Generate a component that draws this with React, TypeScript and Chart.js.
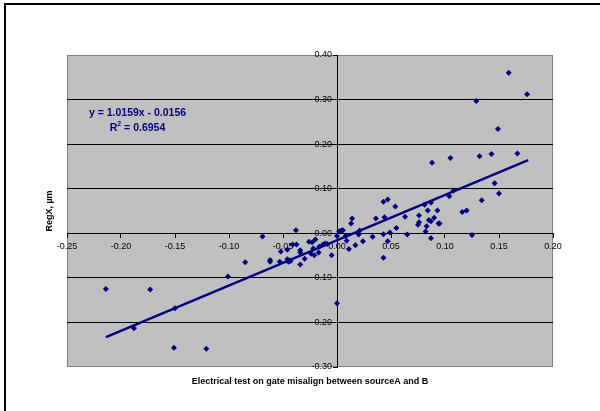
import React, { useEffect, useRef } from "react";
import { Chart, registerables } from "chart.js";

Chart.register(...registerables);

// ---- data ----
const pointX = [
  -0.214, -0.188, -0.173, -0.150, -0.151, -0.121, -0.101, -0.085, -0.069, -0.062,
  -0.062, -0.053, -0.052, -0.046, -0.046, -0.045, -0.044, -0.043, -0.038, -0.041,
  -0.0375, -0.034, -0.034, -0.034, -0.030, -0.026, -0.024, -0.023, -0.022, -0.021,
  -0.020, -0.017, -0.0165, -0.013, -0.011, -0.009, -0.005, 0.000, 0.000, 0.002,
  0.004, 0.0055, 0.008, 0.009, 0.011, 0.013, 0.014, 0.017, 0.020, 0.021,
  0.024, 0.033, 0.036, 0.043, 0.043, 0.043, 0.044, 0.047, 0.047, 0.049,
  0.054, 0.055, 0.063, 0.065, 0.075, 0.076, 0.076, 0.081, 0.082, 0.083,
  0.084, 0.085, 0.087, 0.087, 0.087, 0.088, 0.090, 0.093, 0.094, 0.095,
  0.104, 0.105, 0.108, 0.116, 0.120, 0.125, 0.129, 0.132, 0.134, 0.143,
  0.146, 0.149, 0.150, 0.159, 0.167, 0.176,
];
const pointY = [
  -0.125, -0.213, -0.126, -0.168, -0.257, -0.259, -0.097, -0.065, -0.007, -0.060,
  -0.064, -0.064, -0.041, -0.037, -0.058, -0.064, -0.061, -0.062, 0.007, -0.025,
  -0.025, -0.038, -0.043, -0.070, -0.057, -0.019, -0.046, -0.020, -0.034, -0.049,
  -0.014, -0.043, -0.030, -0.025, -0.023, -0.024, -0.049, -0.157, -0.006, 0.004,
  0.006, 0.007, -0.006, -0.017, -0.035, 0.022, 0.033, -0.027, -0.003, 0.006,
  -0.018, -0.008, 0.033, 0.071, -0.002, -0.055, 0.036, 0.076, -0.018, 0.002,
  0.060, 0.012, 0.037, -0.003, 0.019, 0.025, 0.040, 0.064, 0.004, 0.016,
  0.051, 0.030, 0.069, 0.027, -0.011, 0.158, 0.035, 0.051, 0.022, 0.022,
  0.083, 0.169, 0.096, 0.048, 0.051, -0.004, 0.297, 0.173, 0.074, 0.178,
  0.112, 0.234, 0.089, 0.360, 0.179, 0.312,
];
const trendX = [-0.214, 0.177];
const trendY = [-0.233, 0.164];
const xTickValues = [-0.25, -0.2, -0.15, -0.1, -0.05, 0, 0.05, 0.1, 0.15, 0.2];
const yTickValues = [-0.3, -0.2, -0.1, 0, 0.1, 0.2, 0.3, 0.4];
const equationText = "y = 1.0159x - 0.0156";
const rSquaredValue = "0.6954";
const xTitleText = "Electrical test on gate misalign between sourceA and B";
const yTitleText = "RegX, µm";

const NAVY = "#000080";
const FONT = '"Liberation Sans", Arial, sans-serif';

const plotBgPlugin = {
  id: "plotBg",
  beforeDraw(chart: any) {
    const { ctx, chartArea: a } = chart;
    ctx.save();
    ctx.fillStyle = "#c0c0c0";
    ctx.fillRect(a.left, a.top, a.right - a.left, a.bottom - a.top);
    ctx.strokeStyle = "#808080";
    ctx.lineWidth = 1;
    ctx.strokeRect(a.left + 0.5, a.top + 0.5, a.right - a.left - 1, a.bottom - a.top - 1);
    ctx.restore();
  },
};

const equationPlugin = {
  id: "equation",
  afterDatasetsDraw(chart: any) {
    const { ctx, chartArea: a } = chart;
    const cx = a.left + 70.5;
    const y1 = a.top + 58;
    const y2 = a.top + 73;
    ctx.save();
    ctx.fillStyle = NAVY;
    ctx.textBaseline = "middle";
    ctx.font = `bold 10.5px ${FONT}`;
    ctx.textAlign = "center";
    ctx.fillText(equationText, cx, y1);
    ctx.textAlign = "left";
    const rest = " = " + rSquaredValue;
    const wR = ctx.measureText("R").width;
    const wRest = ctx.measureText(rest).width;
    ctx.font = `bold 7px ${FONT}`;
    const w2 = ctx.measureText("2").width;
    const total = wR + w2 + wRest;
    let x = cx - total / 2;
    ctx.font = `bold 10.5px ${FONT}`;
    ctx.fillText("R", x, y2);
    x += wR;
    ctx.font = `bold 7px ${FONT}`;
    ctx.fillText("2", x, y2 - 4);
    x += w2;
    ctx.font = `bold 10.5px ${FONT}`;
    ctx.fillText(rest, x, y2);
    ctx.restore();
  },
};

export default function App() {
  const ref = useRef<HTMLCanvasElement | null>(null);

  useEffect(() => {
    if (!ref.current) return;
    const tickFont = { family: FONT, size: 9 };
    const chart = new Chart(ref.current, {
      type: "scatter",
      data: {
        datasets: [
          {
            label: "trend",
            data: trendX.map((x, i) => ({ x, y: trendY[i] })),
            showLine: true,
            borderColor: NAVY,
            borderWidth: 2.5,
            pointRadius: 0,
            fill: false,
          },
          {
            label: "points",
            data: pointX.map((x, i) => ({ x, y: pointY[i] })),
            showLine: false,
            pointStyle: "rectRot",
            pointRadius: 3,
            pointBackgroundColor: NAVY,
            pointBorderColor: NAVY,
            pointBorderWidth: 0,
          },
        ],
      },
      options: {
        responsive: false,
        animation: false,
        devicePixelRatio: 1,
        layout: { padding: { top: 55, right: 47, left: 0, bottom: 0 } },
        plugins: {
          legend: { display: false },
          tooltip: { enabled: false },
        },
        scales: {
          x: {
            type: "linear",
            min: -0.25,
            max: 0.2,
            position: { y: 0 } as any,
            afterFit: (s: any) => {
              s.height = 0;
            },
            afterBuildTicks: (s: any) => {
              s.ticks = xTickValues.map((v) => ({ value: v }));
            },
            ticks: {
              autoSkip: false,
              maxRotation: 0,
              minRotation: 0,
              padding: 4,
              font: tickFont,
              color: "#000",
              callback: (v: any) => Number(v).toFixed(2),
            },
            grid: {
              display: true,
              drawOnChartArea: false,
              drawTicks: true,
              tickLength: 4,
              color: "#000",
            },
            border: { display: true, color: "#000", width: 1 },
          },
          y: {
            type: "linear",
            min: -0.3,
            max: 0.4,
            position: { x: 0 } as any,
            afterFit: (s: any) => {
              s.width = 0;
            },
            afterBuildTicks: (s: any) => {
              s.ticks = yTickValues.map((v) => ({ value: v }));
            },
            ticks: {
              padding: 2,
              font: tickFont,
              color: "#000",
              callback: (v: any) => Number(v).toFixed(2) + "  ",
            },
            grid: {
              display: true,
              drawOnChartArea: true,
              drawTicks: true,
              tickLength: 4,
              tickColor: "#000",
              color: (c: any) => {
                const v = c.tick ? c.tick.value : 0;
                return Math.abs(v - 0.4) < 1e-6 || Math.abs(v + 0.3) < 1e-6
                  ? "rgba(0,0,0,0)"
                  : "#000";
              },
            },
            border: { display: true, color: "#000", width: 1 },
          },
          xT: {
            type: "linear",
            axis: "x",
            position: "bottom",
            min: -0.25,
            max: 0.2,
            afterFit: (s: any) => {
              s.height = 44;
            },
            ticks: { display: false },
            grid: { display: false },
            border: { display: false },
            title: {
              display: true,
              text: xTitleText,
              color: "#000",
              font: { family: FONT, size: 9, weight: "bold" },
              padding: { top: 0, bottom: 24 },
            },
          },
          yT: {
            type: "linear",
            axis: "y",
            position: "left",
            min: -0.3,
            max: 0.4,
            afterFit: (s: any) => {
              s.width = 67;
            },
            ticks: { display: false },
            grid: { display: false },
            border: { display: false },
            title: {
              display: true,
              text: yTitleText,
              color: "#000",
              font: { family: FONT, size: 9, weight: "bold" },
              padding: { top: 44, bottom: 0 },
            },
          },
        } as any,
      },
      plugins: [plotBgPlugin, equationPlugin],
    } as any);
    return () => chart.destroy();
  }, []);

  return (
    <div
      style={{
        position: "fixed",
        left: 0,
        top: 0,
        width: 600,
        height: 411,
        background: "#fff",
        overflow: "hidden",
      }}
    >
      <canvas
        ref={ref}
        width={600}
        height={411}
        style={{ position: "absolute", left: 0, top: 0, width: 600, height: 411 }}
      />
      <div
        style={{
          position: "absolute",
          left: 4,
          top: 3,
          width: 640,
          height: 440,
          borderLeft: "2px solid #000",
          borderTop: "2px solid #000",
          pointerEvents: "none",
        }}
      />
    </div>
  );
}
